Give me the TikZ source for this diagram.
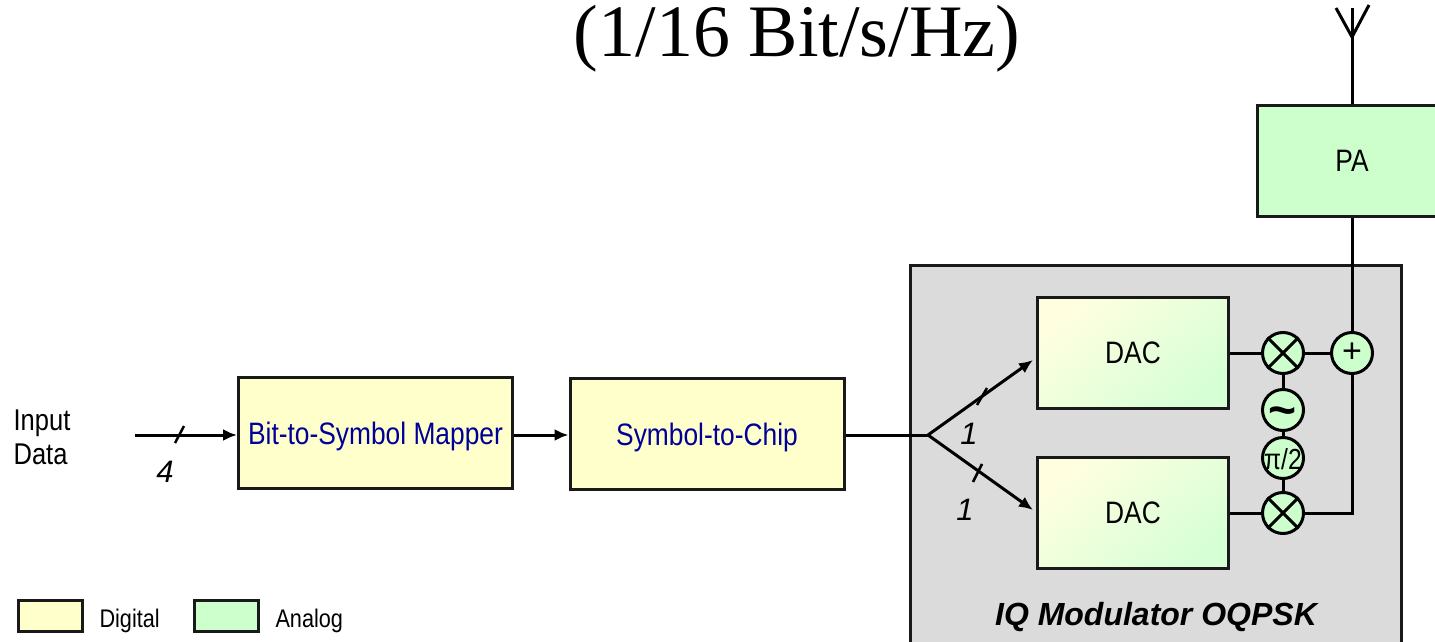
\documentclass[tikz,border=0pt]{standalone}
\usepackage{fontspec}
\setmainfont{Liberation Sans}
\newfontfamily\narrowfont[FakeStretch=0.85]{Liberation Sans}
\newfontfamily\titlefont{Liberation Serif}
\usepackage{xcolor}
\usetikzlibrary{arrows.meta,shapes,backgrounds,fit}
\definecolor{digitalfill}{HTML}{FFFFCC}
\definecolor{analogfill}{HTML}{CCFFCC}
\definecolor{dactop}{HTML}{FFFFE0}
\definecolor{dacmid}{HTML}{F4FFDC}
\definecolor{dacbottom}{HTML}{D6FFD6}
\definecolor{mapperblue}{HTML}{000099}
\newcommand{\px}[1]{\fontsize{#1}{#1}\selectfont}

\begin{document}
\begin{tikzpicture}[x=1pt,y=-1pt,line width=3pt]
		\tikzstyle{block}=[draw=black!90,inner sep=0pt,text height=22pt,text depth=0pt,font=\narrowfont\px{31}]
		\tikzstyle{digital}=[block,fill=digitalfill,minimum width=274pt,minimum height=111pt,text=mapperblue]
		\tikzstyle{analog}=[block,fill=analogfill]
		\tikzstyle{dac}=[block,text height=20pt,minimum width=191pt,minimum height=111pt,top color=dactop,middle color=dacmid,bottom color=dacbottom,shading angle=40]
		\tikzstyle{round_op}=[circle,draw=black,fill=analogfill,minimum size=41pt,inner sep=0pt]
		\tikzstyle{swatch}=[block,minimum width=64pt,minimum height=31pt]
		\tikzstyle{plain_text}=[draw=none,fill=none,inner sep=0pt,font=\narrowfont\px{30}]
		\tikzstyle{count}=[draw=none,inner sep=0pt,font=\itshape\px{31}]
		\tikzstyle{tick_mark}=[line width=2.5pt]
		\tikzstyle{data_line}=[-{Latex[length=14pt,width=12pt]}]

		\clip (0,0) rectangle (1435,642);

		\node [draw=none,inner sep=0pt,font=\titlefont\px{74}] (title) at (797,39) {(1/16 Bit/s/Hz)};

		\node [plain_text,align=left] (input) at (42,437) {Input\\[4pt]Data};
		\coordinate (in_start) at (135,435);
		\node [digital] (mapper) at (375.5,433) {Bit-to-Symbol Mapper};
		\node [digital] (chip) at (707,434) {Symbol-to-Chip};

		\node [block,fill=black!14,minimum width=491pt,minimum height=435pt] (iq) at (1155.5,482.5) {};
		\node [draw=none,font=\bfseries\itshape\px{32}] (iq_text) at (1156,617) {IQ Modulator OQPSK};

		\node [dac] (dac1) at (1133,353) {DAC};
		\node [dac] (dac2) at (1133,513) {DAC};

		\node [round_op] (mix1) at (1283,353) {};
		\node [round_op] (mix2) at (1283,513) {};
		\node [round_op,font=\px{34}] (adder) at (1352,353) {+};
		\node [round_op,font=\bfseries\px{48}] (osc) at (1283,410) {\smash{\raisebox{-16pt}{\~{}}}};
		\node [round_op,font=\narrowfont\px{29}] (shift) at (1283,458) {\smash{\raisebox{-11pt}{π/2}}};

		\node [analog,minimum width=190pt,minimum height=111pt] (pa) at (1352,160.5) {PA};

		\coordinate (split) at (928,435);
		\coordinate (dac1_in) at (1033,360);
		\coordinate (dac2_in) at (1033,510);
		\coordinate (ant_base) at (1352,37);
		\coordinate (ant_top) at (1352,8);
		\coordinate (ant_left) at (1336,8);
		\coordinate (ant_right) at (1369,5);

		\draw [data_line] (in_start) -- (mapper.west |- in_start);
		\draw [data_line] (mapper.east |- in_start) -- (chip.west |- in_start);
		\draw (chip.east |- split) -- (split);
		\draw [data_line] (split) -- (dac1_in);
		\draw [data_line] (split) -- (dac2_in);

		\draw (dac1) -- (mix1);
		\draw (dac2) -- (mix2);
		\draw (mix1) -- (adder);
		\draw (mix1) -- (osc);
		\draw (osc) -- (shift);
		\draw (shift) -- (mix2);
		\draw (mix2) -| (adder);
		\draw (adder) -- (pa);
		\draw (pa) -- (ant_top);
		\draw (ant_left) -- (ant_base) -- (ant_right);

		\foreach \m in {mix1,mix2} {
			\draw (\m.north east) -- (\m.south west);
			\draw (\m.north west) -- (\m.south east);
		}

		\coordinate (tick1a) at (175,443);
		\coordinate (tick1b) at (184,426);
		\coordinate (tick2a) at (977,405);
		\coordinate (tick2b) at (987,388);
		\coordinate (tick3a) at (973,482);
		\coordinate (tick3b) at (982,464);
		\draw [tick_mark] (tick1a) -- (tick1b);
		\draw [tick_mark] (tick2a) -- (tick2b);
		\draw [tick_mark] (tick3a) -- (tick3b);

		\node [count] (n4) at (165,472) {4};
		\node [count] (n1a) at (969,434) {1};
		\node [count] (n1b) at (965,510) {1};

		\node [swatch,fill=digitalfill] (key_digital) at (50.5,616) {};
		\node [swatch,fill=analogfill] (key_analog) at (226.5,616) {};
		\node [plain_text,anchor=west,font=\narrowfont\px{25.5}] (key_d_text) at (98,621) {Digital};
		\node [plain_text,anchor=west,font=\narrowfont\px{25.5}] (key_a_text) at (274,621) {Analog};
	\end{tikzpicture}
\end{document}
